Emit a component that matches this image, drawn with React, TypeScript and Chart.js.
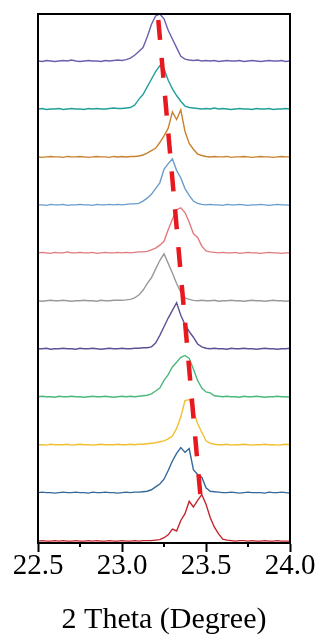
import React, { useEffect, useRef } from "react";
import { Chart, registerables } from "chart.js";

Chart.register(...registerables);

// 2-theta positions (degree)
const THETA = [
  22.5, 22.525, 22.55, 22.575, 22.6, 22.625, 22.65, 22.675, 22.7, 22.725,
  22.75, 22.775, 22.8, 22.825, 22.85, 22.875, 22.9, 22.925, 22.95, 22.975,
  23.0, 23.025, 23.05, 23.075, 23.1, 23.125, 23.15, 23.175, 23.2, 23.225,
  23.25, 23.275, 23.3, 23.325, 23.35, 23.375, 23.4, 23.425, 23.45, 23.475,
  23.5, 23.525, 23.55, 23.575, 23.6, 23.625, 23.65, 23.675, 23.7, 23.725,
  23.75, 23.775, 23.8, 23.825, 23.85, 23.875, 23.9, 23.925, 23.95, 23.975, 24.0,
];

// normalised intensities, traces listed from top to bottom
const PURPLE = [
  0.02, 0.01, 0.03, 0.02, 0.01, 0.02, 0.03, 0.02, 0.04, 0.02,
  0.01, 0.02, 0.03, 0.02, 0.02, 0.01, 0.03, 0.02, 0.03, 0.04,
  0.03, 0.05, 0.08, 0.14, 0.22, 0.3, 0.52, 0.78, 0.96, 1.0,
  0.9, 0.66, 0.48, 0.3, 0.12, 0.06, 0.04, 0.03, 0.04, 0.02,
  0.03, 0.02, 0.03, 0.01, 0.02, 0.03, 0.02, 0.02, 0.03, 0.01,
  0.02, 0.03, 0.02, 0.01, 0.02, 0.03, 0.02, 0.02, 0.03, 0.01, 0.02,
];
const TEAL = [
  0.02, 0.03, 0.01, 0.02, 0.02, 0.03, 0.01, 0.02, 0.03, 0.02,
  0.02, 0.01, 0.03, 0.02, 0.03, 0.02, 0.02, 0.03, 0.04, 0.03,
  0.03, 0.04, 0.05, 0.1, 0.22, 0.32, 0.48, 0.64, 0.8, 0.92,
  0.86, 0.62, 0.44, 0.3, 0.18, 0.08, 0.05, 0.04, 0.03, 0.02,
  0.03, 0.02, 0.04, 0.02, 0.03, 0.02, 0.01, 0.02, 0.03, 0.02,
  0.02, 0.01, 0.03, 0.02, 0.02, 0.03, 0.01, 0.02, 0.02, 0.03, 0.02,
];
const ORANGE = [
  0.02, 0.01, 0.02, 0.03, 0.02, 0.02, 0.01, 0.03, 0.02, 0.02,
  0.03, 0.02, 0.01, 0.02, 0.03, 0.02, 0.02, 0.01, 0.03, 0.02,
  0.03, 0.02, 0.03, 0.03, 0.04, 0.06, 0.1, 0.15, 0.2, 0.32,
  0.46, 0.62, 0.96, 0.8, 1.0, 0.55, 0.3, 0.18, 0.08, 0.05,
  0.03, 0.02, 0.03, 0.02, 0.02, 0.03, 0.01, 0.02, 0.02, 0.03,
  0.02, 0.01, 0.02, 0.03, 0.02, 0.02, 0.01, 0.02, 0.03, 0.02, 0.02,
];
const BLUE = [
  0.02, 0.02, 0.01, 0.03, 0.02, 0.02, 0.03, 0.01, 0.02, 0.02,
  0.03, 0.02, 0.02, 0.01, 0.03, 0.02, 0.02, 0.03, 0.02, 0.03,
  0.02, 0.03, 0.04, 0.04, 0.05, 0.1, 0.16, 0.24, 0.36, 0.48,
  0.76, 0.88, 0.98, 0.74, 0.58, 0.36, 0.22, 0.1, 0.05, 0.03,
  0.02, 0.03, 0.02, 0.02, 0.01, 0.03, 0.02, 0.02, 0.03, 0.02,
  0.01, 0.02, 0.02, 0.03, 0.02, 0.01, 0.02, 0.03, 0.02, 0.02, 0.01,
];
const PINK = [
  0.02, 0.03, 0.02, 0.01, 0.03, 0.02, 0.02, 0.04, 0.02, 0.02,
  0.03, 0.02, 0.02, 0.03, 0.01, 0.02, 0.03, 0.02, 0.02, 0.03,
  0.02, 0.03, 0.02, 0.03, 0.04, 0.04, 0.05, 0.08, 0.12, 0.18,
  0.26, 0.5, 0.72, 0.92, 0.96, 0.86, 0.66, 0.42, 0.34, 0.16,
  0.06, 0.04, 0.03, 0.02, 0.03, 0.02, 0.02, 0.03, 0.01, 0.02,
  0.03, 0.02, 0.02, 0.01, 0.02, 0.03, 0.02, 0.02, 0.01, 0.02, 0.02,
];
const GRAY = [
  0.02, 0.01, 0.02, 0.03, 0.02, 0.02, 0.03, 0.02, 0.01, 0.02,
  0.02, 0.03, 0.02, 0.02, 0.01, 0.03, 0.02, 0.02, 0.03, 0.03,
  0.03, 0.04, 0.05, 0.08, 0.14, 0.24, 0.38, 0.5, 0.68, 0.86,
  1.0, 0.8, 0.6, 0.38, 0.2, 0.08, 0.05, 0.03, 0.02, 0.03,
  0.02, 0.02, 0.03, 0.01, 0.02, 0.02, 0.03, 0.02, 0.02, 0.01,
  0.02, 0.03, 0.02, 0.02, 0.01, 0.02, 0.03, 0.02, 0.02, 0.01, 0.02,
];
const NAVY = [
  0.02, 0.02, 0.03, 0.01, 0.02, 0.02, 0.03, 0.02, 0.02, 0.01,
  0.03, 0.02, 0.02, 0.03, 0.02, 0.01, 0.02, 0.03, 0.02, 0.02,
  0.03, 0.02, 0.02, 0.03, 0.03, 0.04, 0.04, 0.06, 0.14, 0.3,
  0.48, 0.66, 0.82, 0.98, 0.72, 0.52, 0.38, 0.26, 0.12, 0.06,
  0.03, 0.02, 0.03, 0.02, 0.02, 0.01, 0.03, 0.02, 0.02, 0.03,
  0.02, 0.02, 0.01, 0.02, 0.03, 0.02, 0.02, 0.01, 0.02, 0.02, 0.03,
];
const GREEN = [
  0.02, 0.03, 0.02, 0.02, 0.01, 0.03, 0.02, 0.02, 0.03, 0.02,
  0.02, 0.01, 0.02, 0.03, 0.02, 0.02, 0.03, 0.02, 0.01, 0.02,
  0.03, 0.02, 0.03, 0.02, 0.03, 0.04, 0.05, 0.08, 0.14, 0.2,
  0.36, 0.48, 0.64, 0.74, 0.84, 0.88, 0.82, 0.6, 0.36, 0.2,
  0.12, 0.1, 0.04, 0.03, 0.02, 0.03, 0.02, 0.02, 0.01, 0.03,
  0.02, 0.02, 0.03, 0.02, 0.01, 0.02, 0.02, 0.03, 0.02, 0.02, 0.01,
];
const YELLOW = [
  0.02, 0.02, 0.01, 0.03, 0.02, 0.02, 0.02, 0.03, 0.01, 0.02,
  0.03, 0.02, 0.02, 0.01, 0.02, 0.03, 0.02, 0.02, 0.02, 0.03,
  0.02, 0.02, 0.03, 0.02, 0.03, 0.03, 0.04, 0.05, 0.06, 0.08,
  0.1, 0.14, 0.2, 0.36, 0.6, 0.94, 0.96, 0.72, 0.46, 0.28,
  0.1, 0.05, 0.03, 0.02, 0.02, 0.03, 0.01, 0.02, 0.02, 0.03,
  0.02, 0.01, 0.02, 0.02, 0.03, 0.02, 0.02, 0.01, 0.02, 0.03, 0.02,
];
const DARKBLUE = [
  0.02, 0.03, 0.02, 0.02, 0.01, 0.02, 0.03, 0.02, 0.02, 0.03,
  0.02, 0.02, 0.01, 0.03, 0.02, 0.02, 0.03, 0.02, 0.02, 0.01,
  0.02, 0.03, 0.02, 0.03, 0.03, 0.04, 0.05, 0.08, 0.14, 0.2,
  0.3, 0.48, 0.68, 0.84, 0.96, 0.86, 0.94, 0.5, 0.4, 0.34,
  0.12, 0.05, 0.04, 0.03, 0.02, 0.02, 0.03, 0.02, 0.01, 0.02,
  0.03, 0.02, 0.02, 0.02, 0.01, 0.03, 0.02, 0.02, 0.03, 0.02, 0.01,
];
const RED = [
  0.01, 0.02, 0.01, 0.01, 0.02, 0.01, 0.02, 0.01, 0.01, 0.02,
  0.01, 0.01, 0.02, 0.01, 0.02, 0.01, 0.01, 0.02, 0.01, 0.01,
  0.02, 0.01, 0.01, 0.02, 0.01, 0.02, 0.02, 0.02, 0.03, 0.04,
  0.08, 0.14, 0.26, 0.22, 0.44, 0.58, 0.84, 0.72, 0.86, 0.98,
  0.78, 0.5, 0.3, 0.16, 0.05, 0.03, 0.02, 0.01, 0.02, 0.02,
  0.01, 0.02, 0.01, 0.01, 0.02, 0.01, 0.01, 0.02, 0.01, 0.01, 0.01,
];

const TRACES = [PURPLE, TEAL, ORANGE, BLUE, PINK, GRAY, NAVY, GREEN, YELLOW, DARKBLUE, RED];
const TRACE_COLORS = [
  "#6b5fae", "#22a09a", "#c8822e", "#6a9ccc", "#e07a7e", "#9a9a9a",
  "#5a5296", "#4bb87c", "#f0c030", "#35689a", "#c0262c",
];
// vertical stacking offsets of the traces (top to bottom)
const OFFSETS = [10, 9, 8, 7, 6, 5, 4, 3, 2, 1, 0];

// red dashed guide line through the peak positions
const GUIDE_X = [23.216, 23.47];
const GUIDE_Y = [10.875, 0.825];

const X_MIN = 22.5;
const X_MAX = 24.0;

const isMajor = (v: number) => Math.abs(v * 2 - Math.round(v * 2)) < 1e-6;

const framePlugin = {
  id: "frame",
  afterDraw(chart: any) {
    const { ctx, chartArea: a, scales } = chart;
    ctx.save();
    ctx.strokeStyle = "#000";
    ctx.lineWidth = 2;
    ctx.strokeRect(a.left, a.top, a.right - a.left, a.bottom - a.top);
    const xs = scales.x;
    xs.ticks.forEach((t: any) => {
      if (!isMajor(t.value)) {
        const px = xs.getPixelForValue(t.value);
        ctx.beginPath();
        ctx.moveTo(px, a.bottom);
        ctx.lineTo(px, a.bottom + 4);
        ctx.stroke();
      }
    });
    ctx.restore();
  },
};

export default function App() {
  const ref = useRef<HTMLCanvasElement | null>(null);

  useEffect(() => {
    if (!ref.current) return;
    const datasets: any[] = TRACES.map((vals, k) => ({
      data: vals.map((v, i) => ({ x: THETA[i], y: v + OFFSETS[k] })),
      borderColor: TRACE_COLORS[k],
      borderWidth: 1.4,
      pointRadius: 0,
      tension: 0,
      fill: false,
      order: 1,
    }));
    datasets.push({
      data: GUIDE_X.map((x, i) => ({ x, y: GUIDE_Y[i] })),
      borderColor: "#e8191e",
      borderWidth: 4.5,
      borderDash: [20, 18],
      pointRadius: 0,
      fill: false,
      order: 0,
    });

    const chart = new Chart(ref.current, {
      type: "line",
      data: { datasets },
      options: {
        animation: false,
        responsive: true,
        maintainAspectRatio: false,
        layout: { padding: { left: 38, right: 31, top: 14, bottom: 0 } },
        plugins: { legend: { display: false }, tooltip: { enabled: false } },
        scales: {
          x: {
            type: "linear",
            min: X_MIN,
            max: X_MAX,
            border: { display: true, color: "#000", width: 2 },
            grid: {
              drawOnChartArea: false,
              drawTicks: true,
              tickLength: 9,
              tickWidth: 2,
              tickColor: (c: any) => (c.tick && isMajor(c.tick.value) ? "#000" : "rgba(0,0,0,0)"),
            },
            ticks: {
              stepSize: 0.25,
              autoSkip: false,
              maxRotation: 0,
              padding: 0,
              color: "#000",
              font: { family: "'Liberation Serif', 'Times New Roman', serif", size: 29, lineHeight: 1 },
              callback: (v: any) => (isMajor(Number(v)) ? Number(v).toFixed(1) : ""),
            },
            title: {
              display: true,
              text: "2 Theta (Degree)",
              color: "#000",
              font: { family: "'Liberation Serif', 'Times New Roman', serif", size: 30, lineHeight: 1 },
              padding: { top: 24, bottom: 5 },
            },
          },
          y: {
            display: false,
            min: -0.03,
            max: 11.0,
          },
        },
      },
      plugins: [framePlugin],
    });
    return () => chart.destroy();
  }, []);

  return (
    <div style={{ position: "fixed", left: 0, top: 0, width: 321, height: 640, background: "#fff" }}>
      <canvas ref={ref} />
    </div>
  );
}
